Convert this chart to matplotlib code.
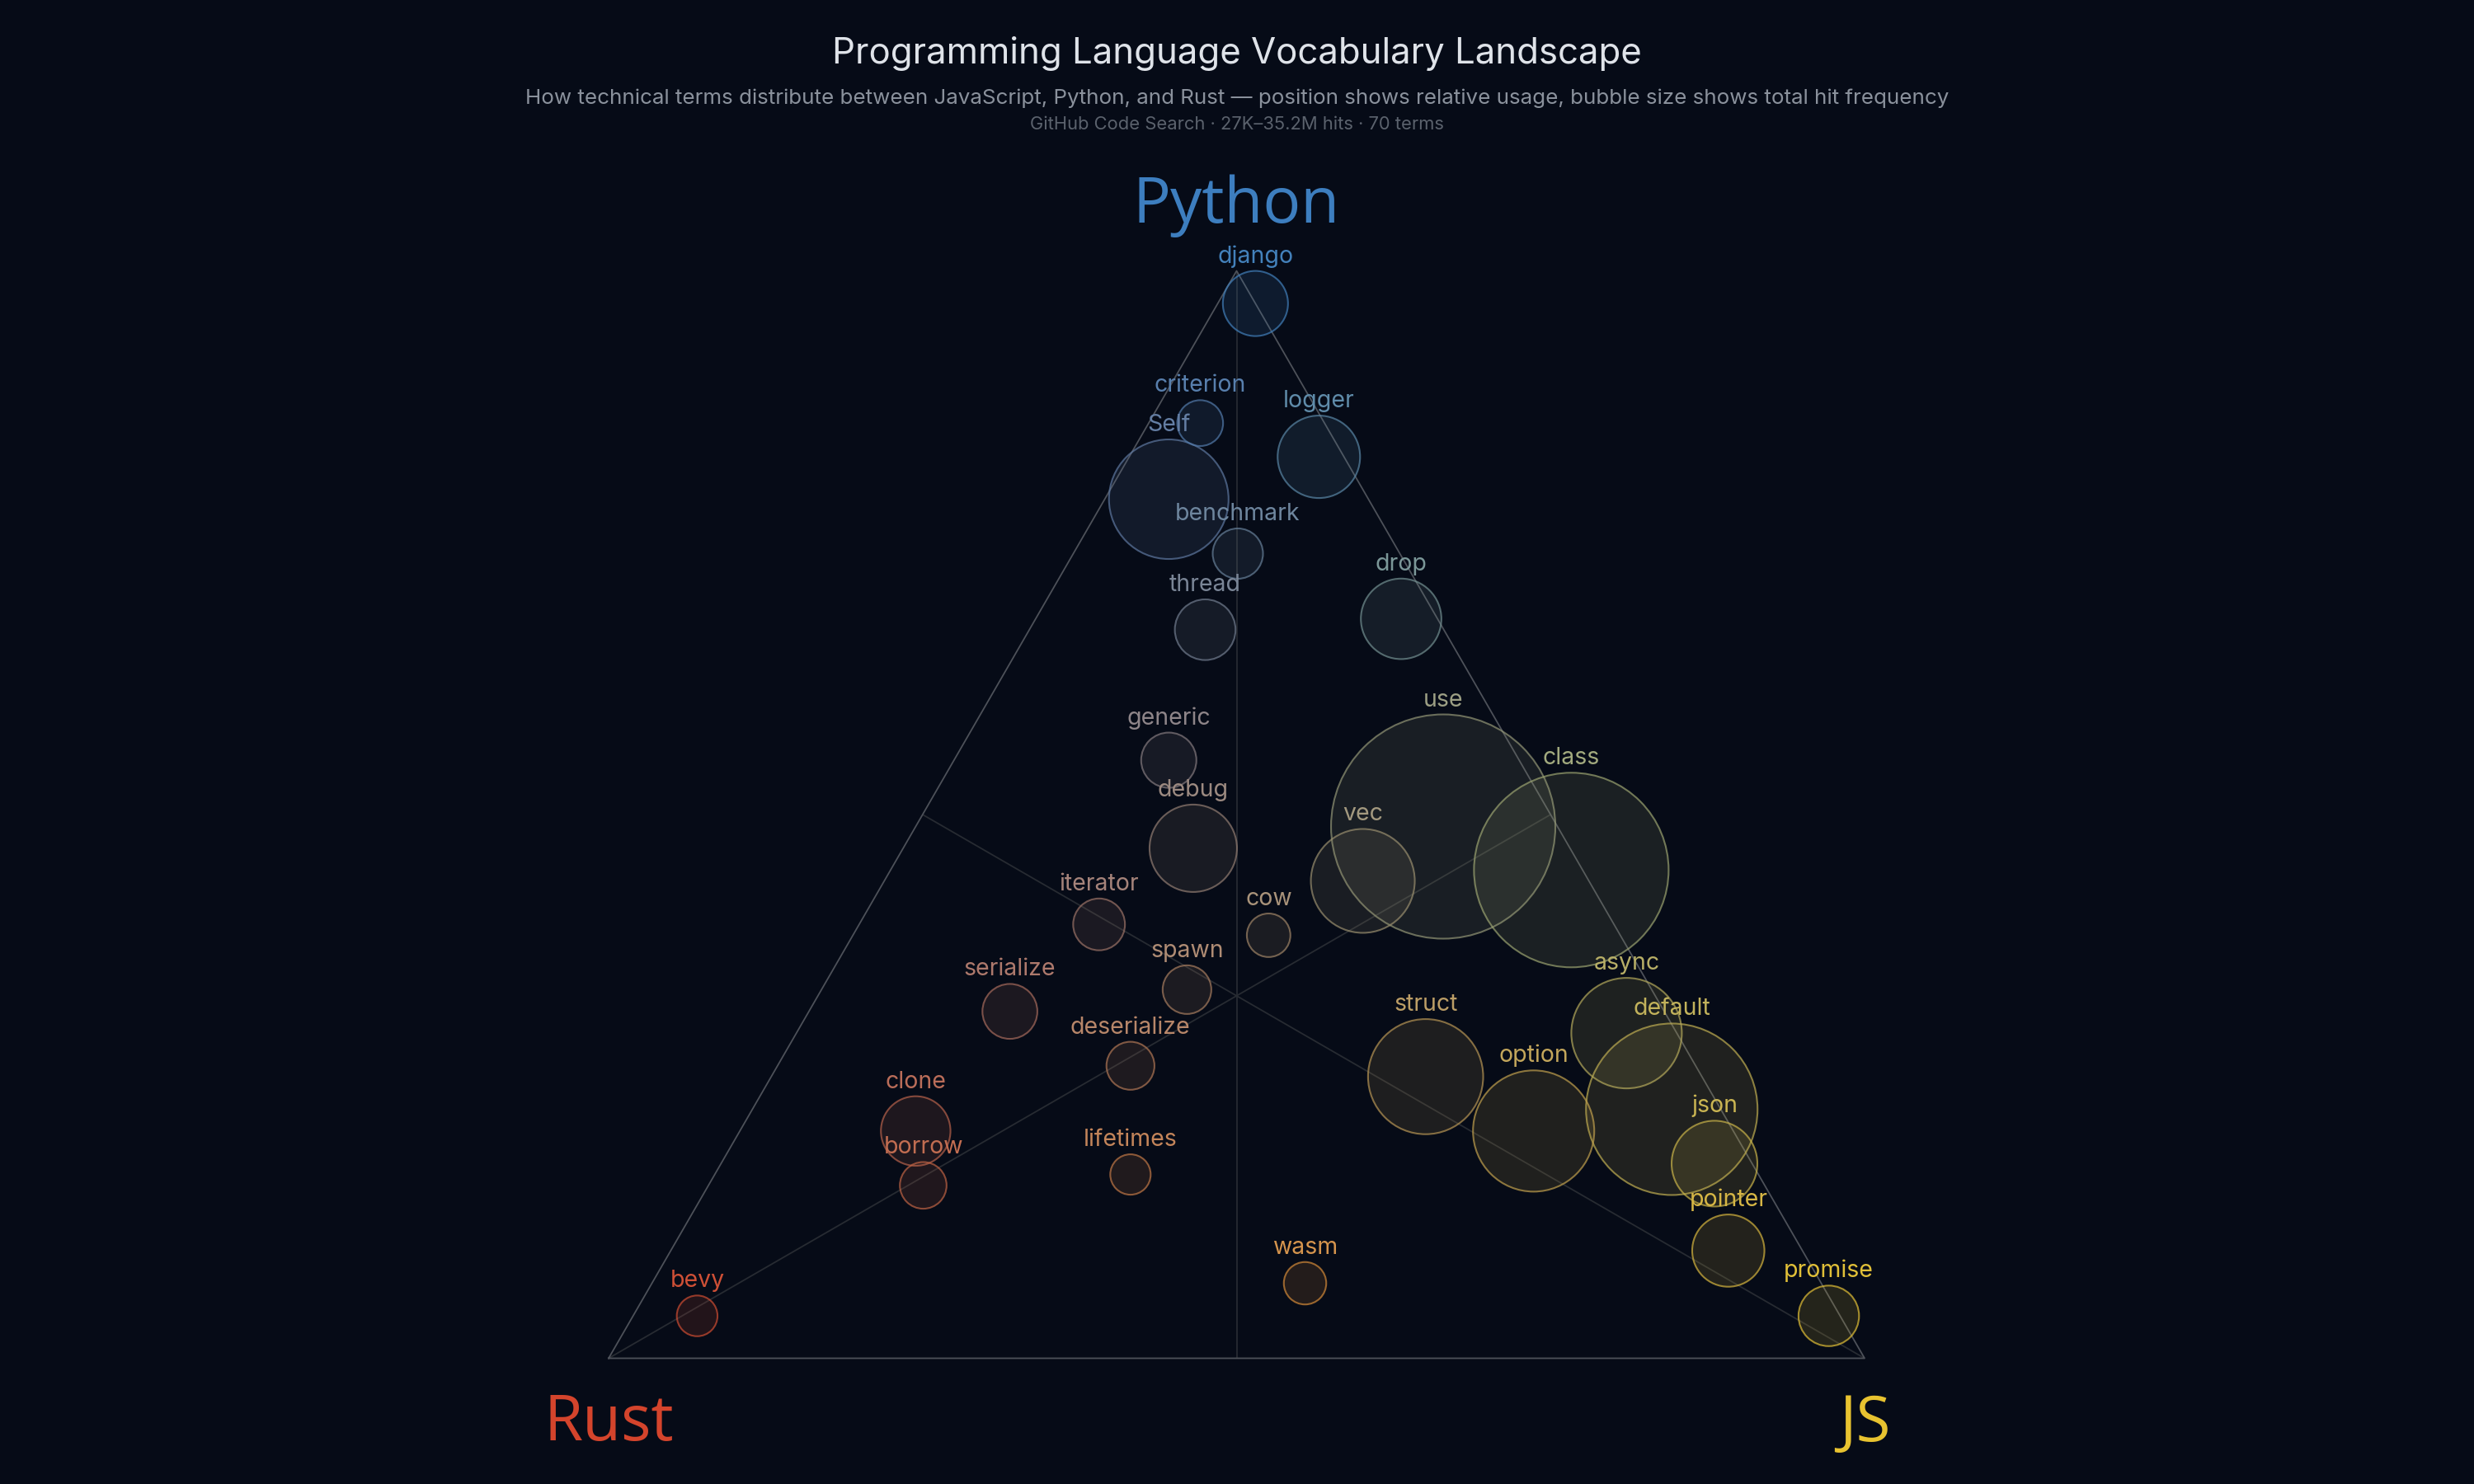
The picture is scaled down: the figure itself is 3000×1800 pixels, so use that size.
import numpy as np
import matplotlib
matplotlib.use("Agg")
import matplotlib.pyplot as plt
from matplotlib.patches import Circle
from matplotlib.colors import to_rgb

# ---------------- data ----------------
terms = ["django", "criterion", "Self", "logger", "benchmark", "thread", "drop",
         "generic", "debug", "use", "class", "vec", "iterator", "cow", "spawn",
         "serialize", "deserialize", "clone", "borrow", "lifetimes", "struct",
         "option", "async", "default", "json", "pointer", "promise", "wasm", "bevy"]
python_pct = [97.0, 86.0, 79.0, 82.9, 74.0, 67.0, 68.0,
              55.0, 46.9, 48.9, 44.9, 43.9, 39.9, 38.9, 33.9,
              31.9, 26.9, 20.9, 15.9, 16.9, 25.9,
              20.9, 29.9, 22.9, 17.9, 9.9, 3.9, 6.9, 3.9]
js_pct = [3.0, 4.1, 5.1, 15.1, 13.1, 14.0, 29.1,
          17.1, 23.1, 42.0, 54.2, 38.1, 19.1, 33.1, 29.1,
          16.0, 28.1, 14.0, 17.1, 33.1, 52.1,
          63.2, 66.1, 73.2, 79.1, 84.2, 95.2, 52.0, 5.1]
rust_pct = [0.0, 9.9, 15.9, 2.0, 12.9, 19.0, 2.9,
            27.9, 30.0, 9.1, 0.9, 18.0, 41.0, 28.0, 37.0,
            52.1, 45.0, 65.1, 67.0, 50.0, 22.0,
            15.9, 4.0, 3.9, 3.0, 5.9, 0.9, 41.1, 91.0]
total_hits = [927_000, 130_000, 7_090_000, 2_260_000, 249_000, 678_000, 2_080_000,
              427_000, 2_750_000, 35_200_000, 25_060_000, 4_720_000, 298_000, 83_000, 200_000,
              414_000, 182_000, 1_210_000, 149_000, 36_000, 6_370_000,
              7_370_000, 5_660_000, 18_360_000, 2_580_000, 1_400_000, 670_000, 64_000, 40_000]
hit_domain = [27_000, 35_200_000]

vertex_labels = ["Python", "Rust", "JS"]

title = "Programming Language Vocabulary Landscape"
subtitle = ("How technical terms distribute between JavaScript, Python, and Rust \u2014 "
            "position shows relative usage, bubble size shows total hit frequency")
source = "GitHub Code Search \u00b7 27K\u201335.2M hits \u00b7 70 terms"

# ---------------- style ----------------
BG = "#060b17"
C_PY = "#3d7ebf"
C_RUST = "#d4442c"
C_JS = "#e8c330"
W, H = 3000, 1800
SIDE_PX = 1523.0
ORIGIN_PX = (738.0, 1647.5)     # Rust corner in pixels
R_RANGE_PX = (24.0, 136.0)

LABEL_FONT = ["Inter", "DejaVu Sans"]
VERTEX_FONT = ["Open Sans", "DejaVu Sans"]

fig = plt.figure(figsize=(W / 100, H / 100), dpi=100, facecolor=BG)
ax = fig.add_axes([0, 0, 1, 1])
ax.set_facecolor(BG)
ax.set_xlim(-ORIGIN_PX[0] / SIDE_PX, (W - ORIGIN_PX[0]) / SIDE_PX)
ax.set_ylim(-(H - ORIGIN_PX[1]) / SIDE_PX, ORIGIN_PX[1] / SIDE_PX)
ax.axis("off")

S3 = np.sqrt(3) / 2
P_RUST = np.array([0.0, 0.0])
P_JS = np.array([1.0, 0.0])
P_PY = np.array([0.5, S3])


def tern(py, js, rust):
    t = py + js + rust
    py, js = py / t, js / t
    return js + py * 0.5, py * S3


# medians
for a, b, c in [(P_PY, P_RUST, P_JS), (P_RUST, P_PY, P_JS), (P_JS, P_PY, P_RUST)]:
    m = (b + c) / 2
    ax.plot([a[0], m[0]], [a[1], m[1]], color="#272b32", lw=1.3, zorder=1,
            solid_capstyle="butt")
# triangle
tri = np.array([P_RUST, P_JS, P_PY, P_RUST])
ax.plot(tri[:, 0], tri[:, 1], color="#4d5159", lw=1.3, zorder=1)

# bubble radius: sqrt scale
sq0, sq1 = np.sqrt(hit_domain[0]), np.sqrt(hit_domain[1])


def radius(v):
    t = (np.sqrt(v) - sq0) / (sq1 - sq0)
    return (R_RANGE_PX[0] + t * (R_RANGE_PX[1] - R_RANGE_PX[0])) / SIDE_PX


cp, cr, cj = np.array(to_rgb(C_PY)), np.array(to_rgb(C_RUST)), np.array(to_rgb(C_JS))

order = np.argsort(total_hits)[::-1]
for i in order:
    py, js, ru = python_pct[i], js_pct[i], rust_pct[i]
    t = py + js + ru
    col = (py * cp + js * cj + ru * cr) / t
    mx = max(py, js, ru) / t
    lift = 0.25 * (1 - mx)
    lab_col = np.clip(col + lift * (np.array([0.86, 0.88, 0.9]) - col), 0, 1)
    x, y = tern(py, js, ru)
    r = radius(total_hits[i])
    ax.add_patch(Circle((x, y), r, facecolor=(*col, 0.14), edgecolor=(*col, 0.7),
                        lw=1.5, zorder=2))
    ax.text(x, y + r + 10 / SIDE_PX, terms[i], color=lab_col, fontsize=20.5,
            family=LABEL_FONT, ha="center", va="baseline", zorder=4)

# vertex labels
ax.text(P_PY[0], P_PY[1] + 59 / SIDE_PX, vertex_labels[0], color=C_PY, fontsize=55,
        family=VERTEX_FONT, ha="center", va="baseline", zorder=5)
ax.text(P_RUST[0], P_RUST[1] - 100 / SIDE_PX, vertex_labels[1], color=C_RUST, fontsize=55,
        family=VERTEX_FONT, ha="center", va="baseline", zorder=5)
ax.text(P_JS[0], P_JS[1] - 100 / SIDE_PX, vertex_labels[2], color=C_JS, fontsize=55,
        family=VERTEX_FONT, ha="center", va="baseline", zorder=5)

# titles
fig.text(0.5, 1 - 77 / H, title, color="#dfe3e9", fontsize=31.5, family=LABEL_FONT,
         ha="center", va="baseline")
fig.text(0.5, 1 - 126 / H, subtitle, color="#8a919c", fontsize=18.7, family=LABEL_FONT,
         ha="center", va="baseline")
fig.text(0.5, 1 - 157 / H, source, color="#5b626d", fontsize=15.8, family=LABEL_FONT,
         ha="center", va="baseline")

fig.savefig("out.png", dpi=100, facecolor=BG)
